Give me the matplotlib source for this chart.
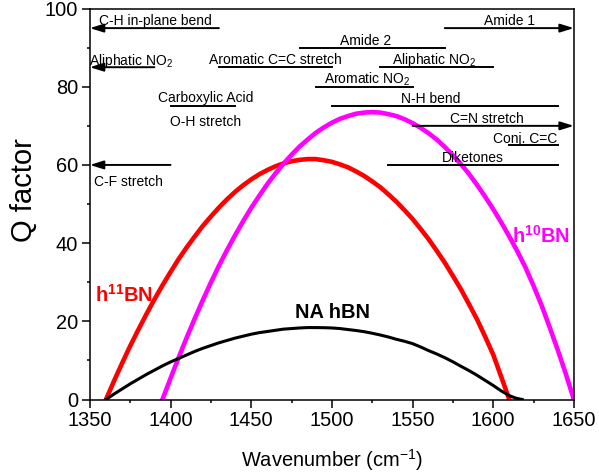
import matplotlib
matplotlib.use("Agg")
import matplotlib.pyplot as plt

plt.rcParams["font.family"] = ["Liberation Sans", "DejaVu Sans"]
plt.rcParams["mathtext.default"] = "regular"

# Q factor vs wavenumber for the three hBN samples (read every 5 cm-1)
wn_h11 = list(range(1360, 1611, 5))
q_h11 = [0, 4.75, 9.3, 13.7, 17.8, 21.8, 25.6, 29.2, 32.6, 35.9, 38.9, 41.7,
         44.4, 46.8, 49.1, 51.2, 53.1, 54.8, 56.3, 57.6, 58.7, 59.65, 60.4, 60.95,
         61.3, 61.5, 61.5, 61.2, 60.8, 60.15, 59.4, 58.35, 57.2, 55.8, 54.3, 52.5,
         50.6, 48.45, 46.2, 43.65, 41.0, 38.05, 35.0, 31.65, 28.2, 24.4, 20.5, 16.1,
         11.5, 5.8, 0]

wn_h10 = list(range(1395, 1651, 5))
q_h10 = [0, 5.4, 10.7, 15.8, 20.7, 25.4, 29.9, 34.2, 38.2, 42.0, 45.6, 49.0,
         52.1, 55.1, 57.8, 60.3, 62.6, 64.7, 66.5, 68.2, 69.6, 70.8, 71.8, 72.5,
         73.1, 73.4, 73.5, 73.4, 73.0, 72.5, 71.7, 70.7, 69.5, 68.1, 66.5, 64.6,
         62.5, 60.2, 57.7, 54.9, 51.9, 48.7, 45.3, 41.7, 37.9, 33.8, 29.1, 24.1,
         18.5, 12.7, 6.6, 0]

wn_na = list(range(1360, 1611, 5)) + [1614, 1618]
q_na = [0, 1.4, 2.7, 4.0, 5.2, 6.4, 7.5, 8.6, 9.6, 10.5, 11.4, 12.3,
        13.1, 13.8, 14.5, 15.1, 15.7, 16.2, 16.7, 17.1, 17.4, 17.7, 18.0, 18.15,
        18.3, 18.4, 18.4, 18.37, 18.3, 18.15, 17.9, 17.65, 17.35, 16.95, 16.5, 16.0,
        15.4, 14.9, 14.3, 13.45, 12.5, 11.65, 10.7, 9.65, 8.5, 7.4, 6.2, 4.9,
        3.6, 2.2, 1.0, 0.35, 0]

# IR absorption bands (cm-1); arrow marks a band running past the plotted range
band_labels = ["C-H in-plane bend", "Aliphatic NO$_2$", "Aromatic C=C stretch",
               "Amide 2", "Amide 1", "Aliphatic NO$_2$", "Aromatic NO$_2$",
               "Carboxylic Acid", "N-H bend", "C=N stretch", "Conj. C=C",
               "Diketones", "C-F stretch"]
band_start = [1350, 1350, 1430, 1480, 1570, 1530, 1490, 1400, 1500, 1550, 1610, 1535, 1350]
band_end = [1430, 1390, 1500, 1570, 1650, 1600, 1550, 1440, 1640, 1650, 1640, 1640, 1400]
band_open = ["left", "left", None, None, "right", None, None, None, None, "right", None, None, "left"]

# drawing layout for the band markers: line level, label x, label baseline, alignment
band_level = [95, 85, 85, 90, 95, 85, 80, 75, 75, 70, 65, 60, 60]
label_x = [1355.5, 1349.5, 1465, 1521, 1610, 1563.5, 1522, 1422, 1561, 1596, 1640, 1587.5, 1352.7]
label_y = [95.8, 85.6, 85.7, 90.8, 95.9, 85.7, 80.7, 76.0, 75.8, 70.8, 65.6, 60.8, 54.6]
label_ha = ["left", "left", "center", "center", "center", "center", "center",
            "center", "center", "center", "right", "center", "left"]

fig = plt.figure(figsize=(5.99, 4.76), dpi=100)
ax = fig.add_axes([0.15, 0.1607, 0.808, 0.8213])

ax.plot(wn_h11, q_h11, color="#ff0000", lw=3.3, solid_joinstyle="round")
ax.plot(wn_h10, q_h10, color="#ff00ff", lw=3.3, solid_joinstyle="round")
ax.plot(wn_na, q_na, color="black", lw=2.2, solid_joinstyle="round")

arrow_style = dict(arrowstyle="-|>,head_length=0.9,head_width=0.28",
                   color="black", lw=1.4, mutation_scale=9, shrinkA=0, shrinkB=0)

for i, lab in enumerate(band_labels):
    y = band_level[i]
    if band_open[i] == "left":
        ax.annotate("", xy=(band_start[i], y), xytext=(band_end[i], y),
                    arrowprops=arrow_style, annotation_clip=False)
    elif band_open[i] == "right":
        ax.annotate("", xy=(band_end[i], y), xytext=(band_start[i], y),
                    arrowprops=arrow_style, annotation_clip=False)
    else:
        ax.plot([band_start[i], band_end[i]], [y, y], color="black", lw=1.4)
    ax.text(label_x[i], label_y[i], lab, ha=label_ha[i], va="baseline", fontsize=10)

ax.text(1421.5, 70.0, "O-H stretch", ha="center", va="baseline", fontsize=10)

ax.text(1353.5, 25.0, "h$^{11}$BN", color="#ff0000", fontsize=14.4,
        fontweight="bold", va="baseline", ha="left")
ax.text(1647.6, 40.1, "h$^{10}$BN", color="#ff00ff", fontsize=14.4,
        fontweight="bold", va="baseline", ha="right")
ax.text(1477.4, 20.8, "NA hBN", color="black", fontsize=14.4,
        fontweight="bold", va="baseline", ha="left")

ax.set_xlim(1350, 1650)
ax.set_ylim(0, 100)
ax.set_xticks(range(1350, 1651, 50))
ax.set_xticks(range(1375, 1650, 50), minor=True)
ax.set_yticks(range(0, 101, 20))
ax.set_yticks(range(10, 100, 20), minor=True)
ax.tick_params(which="major", direction="out", length=5.5, width=1.1,
               labelsize=14.4, pad=3)
ax.tick_params(which="minor", direction="out", length=2.5, width=1.1)
for sp in ax.spines.values():
    sp.set_linewidth(1.1)

ax.set_xlabel("Wavenumber (cm$^{-1}$)", fontsize=14.4, labelpad=12)
ax.set_ylabel("Q factor", fontsize=21)
ax.yaxis.set_label_coords(-0.107, 0.536)

fig.savefig("out.png", dpi=100)
